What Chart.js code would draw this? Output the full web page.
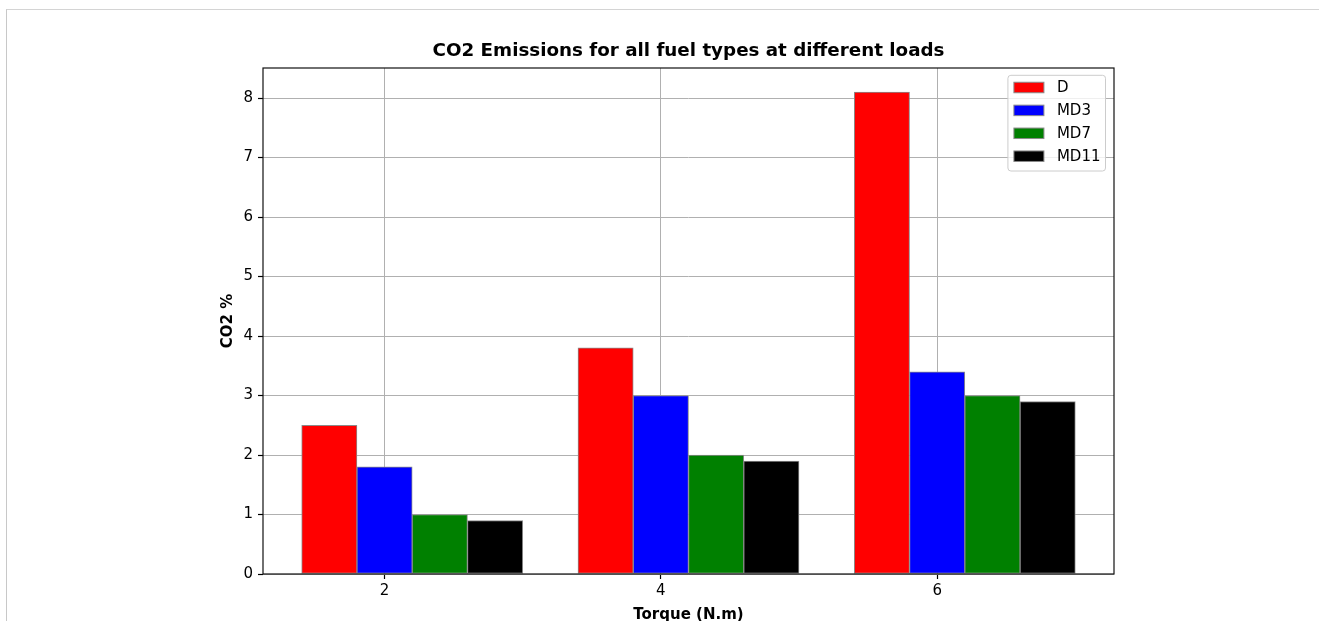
<!DOCTYPE html>
<html>
<head>
<meta charset="utf-8">
<title>CO2 Emissions</title>
<script src="https://cdn.jsdelivr.net/npm/chart.js@4.4.1/dist/chart.umd.min.js"></script>
<style>
  html, body { margin: 0; padding: 0; background: #fff; overflow: hidden; }
  #frame { position: absolute; left: 6px; top: 9px; width: 1320px; height: 620px;
           border-top: 1px solid #d4d4d4; border-left: 1px solid #c8c8c8; }
  #wrap { position: absolute; left: 0; top: 0; width: 1319px; height: 621px; }
</style>
</head>
<body>
<div id="frame"></div>
<div id="wrap"><canvas id="c"></canvas></div>
<script>
// Torque loads (N.m) on the x axis
const torque = [2, 4, 6];
// Fuel series
const fuelLabels = ['D', 'MD3', 'MD7', 'MD11'];
const co2D    = [2.5, 3.8, 8.1];
const co2MD3  = [1.8, 3.0, 3.4];
const co2MD7  = [1.0, 2.0, 3.0];
const co2MD11 = [0.9, 1.9, 2.9];
// Tick labels
const xTicks = [2, 4, 6];
const yTicks = [0, 1, 2, 3, 4, 5, 6, 7, 8];
const chartTitle = 'CO2 Emissions for all fuel types at different loads';

// Grouped bar layout: each bar is 0.4 wide, shifted from the torque value
const barWidth = 0.4;
const barShift = [-0.4, 0, 0.4, 0.8];
const fuelColors = ['#ff0000', '#0000ff', '#008000', '#000000'];
const seriesValues = [co2D, co2MD3, co2MD7, co2MD11];

const datasets = fuelLabels.map((label, i) => ({
  label,
  data: torque.map((t, j) => ({ x: t + barShift[i], y: seriesValues[i][j] })),
  backgroundColor: fuelColors[i],
  borderColor: '#8a8a8a',
  borderWidth: 1,
  borderSkipped: false,
  grouped: false,
  barPercentage: 1,
  categoryPercentage: 1
}));

// x range: bar extent plus 5% margins on each side
const xLo = Math.min(...torque) + Math.min(...barShift) - barWidth / 2;
const xHi = Math.max(...torque) + Math.max(...barShift) + barWidth / 2;
const xPad = (xHi - xLo) * 0.05;
const yMax = Math.max(...seriesValues.flat()) * 1.05;

const FONT = '"DejaVu Sans", "Liberation Sans", sans-serif';

// Box around the plotting area, and the title centred over it
const axesFrame = {
  id: 'axesFrame',
  afterDraw(chart) {
    const { ctx, chartArea: a } = chart;
    ctx.save();
    ctx.strokeStyle = '#111';
    ctx.lineWidth = 1.2;
    ctx.strokeRect(a.left, a.top, a.right - a.left, a.bottom - a.top);
    ctx.font = 'bold 18.3px ' + FONT;
    ctx.fillStyle = '#000';
    ctx.textAlign = 'center';
    ctx.textBaseline = 'middle';
    ctx.fillText(chartTitle, (a.left + a.right) / 2, a.top - 16.8);
    ctx.restore();
  }
};

// Legend box in the upper right corner of the plotting area
const cornerLegend = {
  id: 'cornerLegend',
  afterDraw(chart) {
    const { ctx, chartArea: a } = chart;
    const fs = 15;
    ctx.save();
    ctx.font = fs + 'px ' + FONT;
    const items = chart.data.datasets.map(d => ({ label: d.label, color: d.backgroundColor }));
    const textW = Math.max(...items.map(it => ctx.measureText(it.label).width));
    const pad = 0.4 * fs, handle = 2 * fs, gap = 0.8 * fs, rowH = 22.9;
    const w = pad * 2 + handle + gap + textW;
    const h = 95.7;
    const x = a.right - 8.5 - w;
    const y = a.top + 7.3;
    ctx.beginPath();
    ctx.roundRect(x, y, w, h, 3);
    ctx.fillStyle = 'rgba(255,255,255,0.8)';
    ctx.fill();
    ctx.strokeStyle = '#cccccc';
    ctx.lineWidth = 1;
    ctx.stroke();
    items.forEach((it, i) => {
      const cy = y + 12.2 + i * rowH;
      const ph = 0.7 * fs;
      ctx.fillStyle = it.color;
      ctx.fillRect(x + pad, cy - ph / 2, handle, ph);
      ctx.strokeStyle = '#8a8a8a';
      ctx.strokeRect(x + pad, cy - ph / 2, handle, ph);
      ctx.fillStyle = '#000';
      ctx.textBaseline = 'middle';
      ctx.textAlign = 'left';
      ctx.fillText(it.label, x + pad + handle + gap + 1, cy + 0.5);
    });
    ctx.restore();
  }
};

Chart.defaults.font.family = FONT;
Chart.defaults.color = '#000';

new Chart(document.getElementById('c'), {
  type: 'bar',
  data: { datasets },
  options: {
    responsive: true,
    maintainAspectRatio: false,
    animation: false,
    layout: { padding: { left: 0, right: 205, top: 68, bottom: 0 } },
    plugins: {
      legend: { display: false },
      tooltip: { enabled: false },
      title: { display: false }
    },
    scales: {
      x: {
        type: 'linear',
        min: xLo - xPad,
        max: xHi + xPad,
        offset: false,
        z: 1,
        afterBuildTicks: s => { s.ticks = xTicks.map(v => ({ value: v })); },
        afterFit: s => { s.height = 47; },
        ticks: { font: { size: 15 }, color: '#000', padding: 3, maxRotation: 0, autoSkip: false },
        grid: { offset: false, color: '#b0b0b0', lineWidth: 1, drawTicks: true, tickLength: 5, tickColor: '#000', tickWidth: 1.2 },
        border: { display: false },
        title: {
          display: true,
          text: 'Torque (N.m)',
          font: { size: 15, weight: 'bold', lineHeight: 1.0 },
          color: '#000',
          padding: { top: 0, bottom: -2 }
        }
      },
      y: {
        type: 'linear',
        min: 0,
        max: yMax,
        z: 1,
        afterBuildTicks: s => { s.ticks = yTicks.map(v => ({ value: v })); },
        afterFit: s => { s.width = 263; },
        ticks: { font: { size: 15 }, color: '#000', padding: 5 },
        grid: { color: '#b0b0b0', lineWidth: 1, drawTicks: true, tickLength: 5, tickColor: '#000', tickWidth: 1.2 },
        border: { display: false },
        title: {
          display: true,
          text: 'CO2 %',
          font: { size: 15, weight: 'bold', lineHeight: 1.2 },
          color: '#000',
          padding: { top: 219, bottom: 0 }
        }
      }
    }
  },
  plugins: [axesFrame, cornerLegend]
});
</script>
</body>
</html>
